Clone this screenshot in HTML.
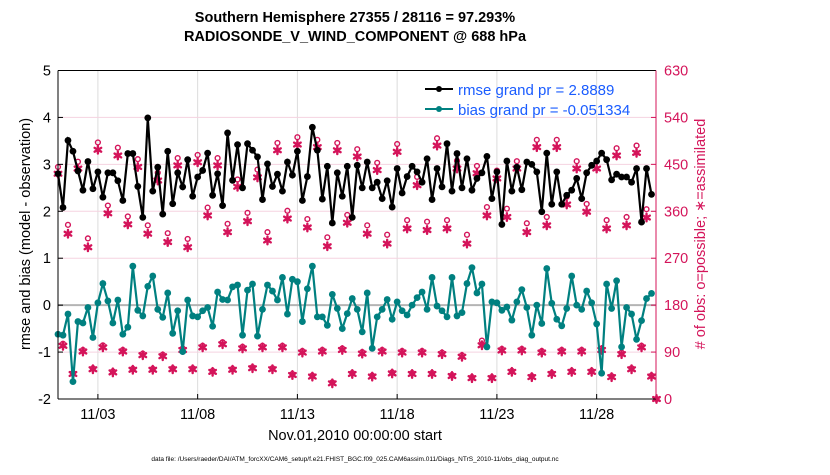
<!DOCTYPE html>
<html><head><meta charset="utf-8"><style>
body{margin:0;background:#fff;}
svg text{font-family:"Liberation Sans",Arial,sans-serif;}
</style></head><body>
<svg id="chart" width="830" height="470" viewBox="0 0 830 470" xmlns="http://www.w3.org/2000/svg">
<rect width="830" height="470" fill="#fff"/>
<g id="grid"></g>
<g id="marks"></g>
<g id="axes"></g>
<text x="355" y="22" text-anchor="middle" font-size="14.5" font-weight="bold">Southern Hemisphere 27355 / 28116 = 97.293%</text>
<text x="355" y="41" text-anchor="middle" font-size="14.5" font-weight="bold">RADIOSONDE_V_WIND_COMPONENT @ 688 hPa</text>
<text transform="translate(30,234) rotate(-90)" text-anchor="middle" font-size="14.5">rmse and bias (model - observation)</text>
<text transform="translate(705,234) rotate(-90)" text-anchor="middle" font-size="14.5" fill="#d4145a"># of obs: o=possible; ∗=assimilated</text>
<text x="355" y="440" text-anchor="middle" font-size="14.5">Nov.01,2010 00:00:00 start</text>
<text x="355" y="461" text-anchor="middle" font-size="6.5">data file: /Users/raeder/DAI/ATM_forcXX/CAM6_setup/f.e21.FHIST_BGC.f09_025.CAM6assim.011/Diags_NTrS_2010-11/obs_diag_output.nc</text>
<g id="legend">
<line x1="425" y1="89" x2="453" y2="89" stroke="#000" stroke-width="2"/><circle cx="439" cy="89" r="3" fill="#000"/>
<text x="458" y="95" font-size="15" fill="#1a5cff">rmse grand pr = 2.8889</text>
<line x1="425" y1="109" x2="453" y2="109" stroke="#008080" stroke-width="2"/><circle cx="439" cy="109" r="3" fill="#008080"/>
<text x="458" y="115" font-size="15" fill="#1a5cff">bias grand pr = -0.051334</text>
</g>
</svg>
<script>
const rmse=[2.80,2.08,3.51,3.28,2.86,2.45,3.06,2.48,2.84,2.30,2.82,2.82,2.65,2.23,3.23,3.23,2.53,1.87,3.99,2.43,2.94,1.94,3.28,2.16,2.82,2.52,3.10,2.32,2.73,2.87,3.24,2.34,
2.80,2.12,3.67,2.66,3.42,2.50,3.44,3.30,3.16,2.25,3.01,2.53,2.79,2.43,3.05,2.77,3.28,2.23,2.74,3.79,3.30,2.26,2.96,1.75,2.82,2.32,2.96,1.87,2.98,2.50,3.05,
2.50,2.62,2.27,2.65,2.09,2.91,2.39,2.74,2.96,2.84,2.62,3.12,2.25,2.91,2.52,3.44,2.43,3.23,2.50,3.12,2.45,2.70,2.82,3.17,2.27,2.84,1.72,3.07,2.43,2.94,2.46,
3.05,3.00,2.84,1.99,3.24,2.15,2.84,2.15,2.34,2.45,2.70,2.27,2.82,2.98,3.07,3.24,3.10,2.67,2.79,2.73,2.73,2.62,2.91,1.77,2.91,2.36];
const bias=[-0.62,-0.64,-0.19,-1.63,-0.35,-0.38,-0.05,-0.69,0.05,0.46,0.09,-0.38,0.11,-0.62,-0.47,0.83,-0.11,-0.23,0.40,0.62,-0.09,-0.26,0.26,-0.60,-0.12,-0.99,0.11,-0.23,-0.25,-0.12,-0.05,-0.45,
0.28,0.12,0.11,0.39,0.43,-0.64,0.32,0.45,-0.66,-0.09,0.43,0.30,0.11,0.59,-0.19,0.55,0.50,-0.35,0.35,0.83,-0.25,-0.25,-0.43,0.23,-0.07,-0.50,-0.18,0.14,-0.09,-0.57,0.26,
-0.92,-0.25,-0.09,0.12,-0.30,0.07,-0.12,-0.21,0.00,0.16,0.28,-0.09,0.59,-0.02,-0.12,-0.25,0.59,-0.23,-0.16,0.46,0.80,0.26,0.45,-0.89,0.07,0.05,-0.11,-0.04,-0.32,0.07,0.33,
-0.05,-0.64,0.00,-0.39,0.78,0.04,-0.30,-0.44,-0.07,0.62,0.00,-0.09,0.30,0.05,-0.40,-1.45,0.45,-0.07,0.52,-0.89,-0.05,-0.19,-0.73,-0.33,0.14,0.25];
const assimilated=[432,102,317,48,442,91,291,57,478,99,356,51,467,91,335,56,445,84,317,56,419,82,301,57,448,94,291,57,454,99,352,52,
448,105,320,56,407,97,341,59,425,99,304,57,477,99,346,46,488,89,329,43,483,91,293,30,477,94,338,48,465,87,317,
43,439,91,298,49,474,89,327,48,410,89,324,48,486,86,327,44,442,81,298,40,433,103,352,40,423,93,349,52,442,93,
320,42,483,89,333,48,483,91,373,52,442,91,359,52,442,94,327,42,467,86,333,57,472,99,348,43,0];
const possible=[445,106,334,50,455,94,308,59,492,103,371,53,482,94,350,58,460,87,333,58,434,85,318,59,462,97,307,59,468,102,367,54,
462,109,336,58,421,100,357,61,440,102,320,59,491,102,361,48,502,92,345,45,497,94,310,32,491,97,353,50,479,90,333,
45,453,94,315,51,489,92,343,50,426,92,340,50,500,89,343,46,457,84,315,42,447,112,368,42,438,96,365,54,456,96,
337,44,497,92,349,50,497,94,388,54,456,94,374,54,456,97,343,44,481,89,349,59,486,102,364,45,0];
const yTicksL=[-2,-1,0,1,2,3,4,5];
const yTicksR=[0,90,180,270,360,450,540,630];
const xTickDays=[2,7,12,17,22,27];
const xTickLabels=["11/03","11/08","11/13","11/18","11/23","11/28"];
const stepDays=0.25;

const X0=58,X1=656,Y0=70.5,Y1=399;
const xScale=t=>58+t*19.95;
const yL=v=>Y1-(v+2)*(Y1-Y0)/7;
const yR=c=>Y1-c*(Y1-Y0)/630;
const NS="http://www.w3.org/2000/svg";
function mk(tag,attrs,parent){const e=document.createElementNS(NS,tag);for(const k in attrs)e.setAttribute(k,attrs[k]);parent.appendChild(e);return e;}
const grid=document.getElementById('grid'),marks=document.getElementById('marks'),axes=document.getElementById('axes');
const MAG="#d4145a",TEAL="#008080";
xTickDays.forEach((d,i)=>{const x=xScale(d);
 const g=mk('line',{x1:x,y1:Y0,x2:x,y2:Y1,stroke:'#dcdcdc','stroke-width':1},grid);
 
 
 const t=mk('line',{x1:x,y1:Y1,x2:x,y2:Y1-5,stroke:'#000'},axes);
 
 
 const l=mk('text',{x:x,y:419,'text-anchor':'middle','font-size':14.5},axes);l.textContent=xTickLabels[i];
 
 
});
yTicksR.forEach(c=>{const y=yR(c);
 if(c>0&&c<630){const g=mk('line',{x1:X0,y1:y,x2:X1,y2:y,stroke:'#f5d3e0','stroke-width':1},grid);
 
 }
 const t=mk('line',{x1:X1,y1:y,x2:X1-5,y2:y,stroke:MAG},axes);
 
 
 const l=mk('text',{x:664,y:y+5,'font-size':14.5,fill:MAG},axes);l.textContent=c;
 
 
});
yTicksL.forEach(v=>{const y=yL(v);
 const t=mk('line',{x1:X0,y1:y,x2:X0+5,y2:y,stroke:'#000'},axes);
 
 
 const l=mk('text',{x:X0-7,y:y+5,'text-anchor':'end','font-size':14.5},axes);l.textContent=v;
 
 
});
const zl=mk('line',{x1:X0,y1:yL(0),x2:X1,y2:yL(0),stroke:'#b4b4b4','stroke-width':2},grid);


// obs counts
assimilated.forEach((c,i)=>{const x=xScale(i*stepDays);
 const o=mk('circle',{cx:x,cy:yR(possible[i]),r:2.4,fill:'none',stroke:MAG,'stroke-width':1.4},marks);
 
 
 const y=yR(c),r=3.8,h=r*0.866;
 const d=`M${x},${y-r}L${x},${y+r}M${x-h},${y-r/2}L${x+h},${y+r/2}M${x-h},${y+r/2}L${x+h},${y-r/2}`;
 const s=mk('path',{d:d,stroke:MAG,'stroke-width':2.4,fill:'none','stroke-linecap':'round'},marks);
 
 
});
function series(vals,color,name){
 const pts=vals.map((v,i)=>xScale(i*stepDays)+','+yL(v)).join(' ');
 const pl=mk('polyline',{points:pts,fill:'none',stroke:color,'stroke-width':2.2},marks);
 
 
 vals.forEach((v,i)=>{const c=mk('circle',{cx:xScale(i*stepDays),cy:yL(v),r:3.4,fill:color},marks);
  
  });
}
series(bias,TEAL,'bias');
series(rmse,'#000','rmse');
const bl=mk('line',{x1:X0,y1:Y1,x2:X1,y2:Y1,stroke:'#000'},axes);


const tl=mk('line',{x1:X0,y1:Y0,x2:X1,y2:Y0,stroke:'#000'},axes);


const ll=mk('line',{x1:X0,y1:Y0,x2:X0,y2:Y1,stroke:'#000'},axes);


const rl=mk('line',{x1:X1,y1:Y0,x2:X1,y2:Y1,stroke:MAG},axes);


</script>
</body></html>
